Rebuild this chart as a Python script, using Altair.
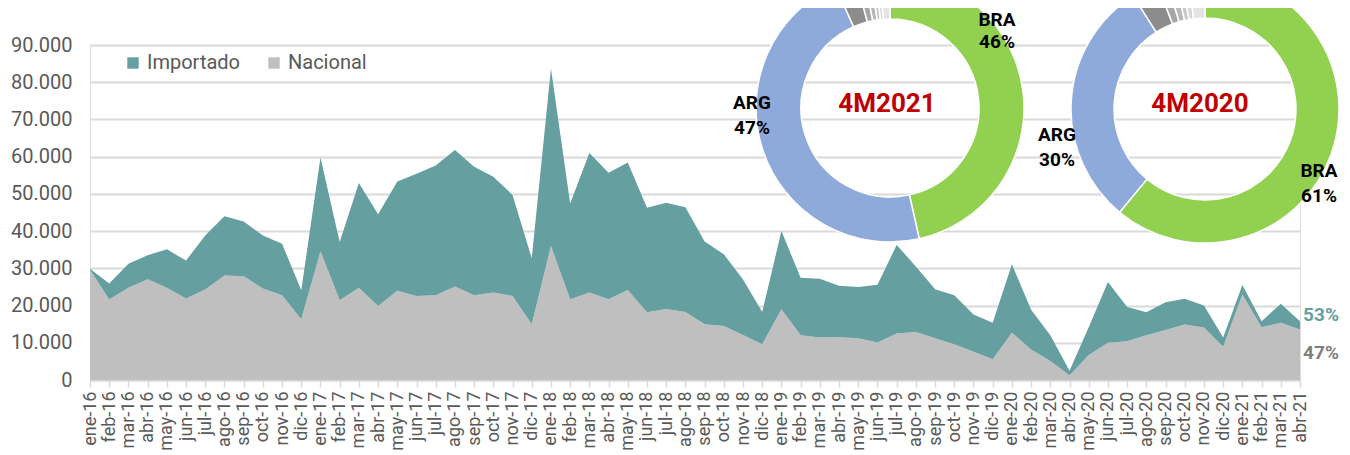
import altair as alt
import pandas as pd

meses = ["ene", "feb", "mar", "abr", "may", "jun", "jul", "ago", "sep", "oct", "nov", "dic"]
months = [f"{m}-{y}" for y in ["16", "17", "18", "19", "20"] for m in meses] + ["ene-21", "feb-21", "mar-21", "abr-21"]

nacional = [29600, 21600, 24800, 27100, 24800, 21900, 24300, 28100, 27900, 24600, 22800, 16300,
            34600, 21400, 24800, 19900, 24000, 22600, 22800, 25100, 22800, 23500, 22600, 15000,
            36000, 21700, 23500, 21700, 24200, 18200, 19100, 18300, 15000, 14500, 12100, 9600,
            19000, 12000, 11400, 11500, 11200, 10100, 12500, 12900, 11200, 9600, 7600, 5600,
            12700, 8200, 5100, 1300, 6700, 10000, 10400, 12000, 13400, 14900, 14100, 8900,
            23000, 14200, 15400, 13600]
importado = [300, 4300, 6400, 6400, 10300, 10200, 14500, 15900, 14700, 14200, 13800, 7800,
             25200, 15700, 28100, 24600, 29300, 32800, 34800, 36700, 34500, 31100, 27100, 17700,
             47700, 25700, 37500, 34000, 34200, 28100, 28500, 28100, 22200, 19300, 14900, 8700,
             21000, 15500, 15800, 13800, 13800, 15500, 23800, 17600, 13200, 13200, 10000, 9800,
             18400, 10700, 6900, 1200, 7500, 16300, 9200, 6200, 7500, 6900, 5900, 2500,
             2500, 1600, 5100, 2200]

series = ["Importado", "Nacional"]
series_colors = ["#669f9f", "#bfbfbf"]

origen = ["BRA", "ARG", "O1", "O2", "O3", "O4", "O5", "O6"]
origen_colors = ["#92d050", "#8eaadb", "#8c8c8c", "#a6a6a6", "#b8b8b8", "#cacaca", "#d6d6d6", "#e4e4e4"]
share_2021 = [46.5, 46.8, 2.6, 1.0, 0.8, 0.6, 0.5, 1.2]
share_2020 = [61.0, 30.0, 3.2, 1.2, 1.0, 0.8, 0.8, 2.0]

rows = []
for i, m in enumerate(months):
    rows.append({"mes": m, "serie": "Nacional", "valor": nacional[i], "ord": 0})
    rows.append({"mes": m, "serie": "Importado", "valor": importado[i], "ord": 1})
df = pd.DataFrame(rows)

W, H = 1210, 335
FONT = "Roboto"

area = alt.Chart(df).mark_area(opacity=1).encode(
    x=alt.X("mes:O", sort=months, scale=alt.Scale(type="point", padding=0),
            axis=alt.Axis(title=None, labelAngle=-90, labelFontSize=18, labelColor="#595959",
                          labelFont=FONT, domainColor="#d9d9d9", domainWidth=2,
                          tickColor="#d9d9d9", tickWidth=1.5, tickSize=7, labelPadding=4)),
    y=alt.Y("valor:Q", stack="zero", scale=alt.Scale(domain=[0, 90000], nice=False),
            axis=alt.Axis(title=None, values=list(range(0, 90001, 10000)),
                          labelExpr="replace(format(datum.value, ','), ',', '.')",
                          labelFontSize=20, labelColor="#595959", labelFont=FONT,
                          ticks=False, domain=False, labelPadding=18,
                          gridColor="#d9d9d9", gridWidth=2)),
    color=alt.Color("serie:N", scale=alt.Scale(domain=series, range=series_colors),
                    legend=alt.Legend(title=None, orient="none", legendX=33, legendY=8,
                                      direction="horizontal", symbolType="square", symbolSize=130,
                                      labelFontSize=20, labelColor="#595959", labelFont=FONT,
                                      columnPadding=24, symbolStrokeWidth=0)),
    order=alt.Order("ord:Q"),
)


def donut(shares, cx, cy, r_in, r_out):
    d = pd.DataFrame({"origen": origen, "pct": shares, "idx": list(range(len(origen)))})
    return alt.Chart(d).mark_arc(innerRadius=r_in, outerRadius=r_out, stroke="white", strokeWidth=1.5).encode(
        theta=alt.Theta("pct:Q", stack=True),
        color=alt.Color("origen:N", scale=alt.Scale(domain=origen, range=origen_colors), legend=None),
        order=alt.Order("idx:Q"),
        x=alt.value(cx), y=alt.value(cy),
    )


def label(text, x, y, color="black", size=19, weight="bold", line_height=25):
    return alt.Chart(pd.DataFrame({"t": [text]})).mark_text(
        font=FONT, fontSize=size, fontWeight=weight, color=color, align="center", baseline="middle",
        lineBreak="\n", lineHeight=line_height,
    ).encode(text="t:N", x=alt.value(x), y=alt.value(y))


d1 = donut(share_2021, 800, 63, 89, 134)
d2 = donut(share_2020, 1115, 64, 91, 134)

labels = [
    label("BRA\n46%", 907, -25, line_height=22),
    label("ARG\n47%", 662, 58),
    label("ARG\n30%", 967, 90),
    label("BRA\n61%", 1229, 126),
    label("4M2021", 797, 59, color="#c00000", size=26),
    label("4M2020", 1110, 59, color="#c00000", size=26),
    label("53%", 1231, 270, color="#669f9f", size=19),
    label("47%", 1231, 308, color="#7f7f7f", size=19),
]

chart = alt.layer(area, d1, d2, *labels).resolve_scale(
    color="independent", theta="independent"
).properties(
    width=W, height=H,
    autosize=alt.AutoSizeParams(type="none"),
    padding={"left": 82, "top": 37, "right": 42, "bottom": 75},
).configure_view(stroke=None).configure(background="white")

chart.save("out.html", embed_options={"renderer": "svg", "actions": False})
